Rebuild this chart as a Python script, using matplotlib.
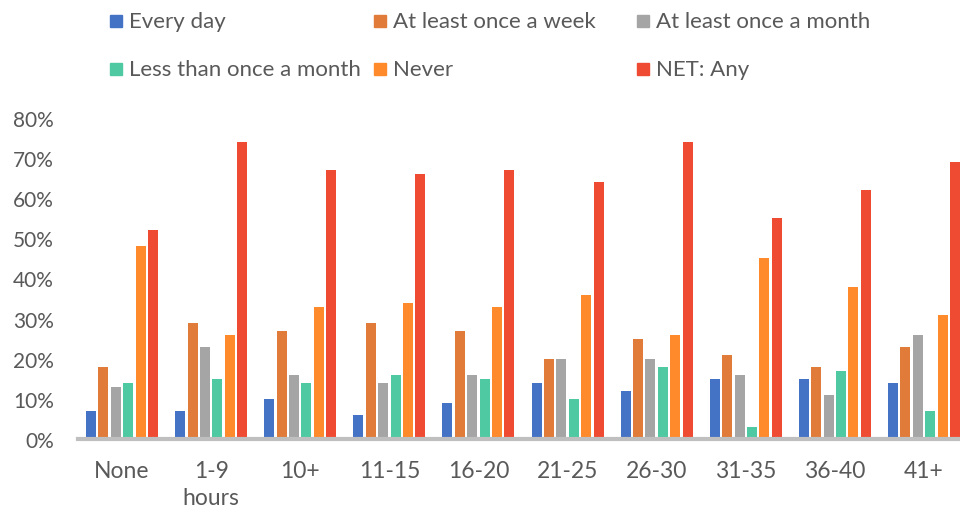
import matplotlib
matplotlib.use("Agg")
import matplotlib.pyplot as plt
from matplotlib.patches import Rectangle
import numpy as np

plt.rcParams['font.family'] = ['Lato', 'DejaVu Sans']

categories = ["None", "1-9\nhours", "10+", "11-15", "16-20", "21-25", "26-30", "31-35", "36-40", "41+"]
series_names = ["Every day", "At least once a week", "At least once a month",
                "Less than once a month", "Never", "NET: Any"]
every_day = [7, 7, 10, 6, 9, 14, 12, 15, 15, 14]
once_a_week = [18, 29, 27, 29, 27, 20, 25, 21, 18, 23]
once_a_month = [13, 23, 16, 14, 16, 20, 20, 16, 11, 26]
less_than_monthly = [14, 15, 14, 16, 15, 10, 18, 3, 17, 7]
never = [48, 26, 33, 34, 33, 36, 26, 45, 38, 31]
net_any = [52, 74, 67, 66, 67, 64, 74, 55, 62, 69]
colors = ["#4472C4", "#E07B39", "#A5A5A5", "#4FC9A2", "#FF8A2B", "#EF4A32"]

values = [every_day, once_a_week, once_a_month, less_than_monthly, never, net_any]

W, H = 960, 510
fig = plt.figure(figsize=(W / 100, H / 100), dpi=100)
ax_left, ax_right = 77.5, 960
ax_bottom, ax_top = 440, 119
ax = fig.add_axes([ax_left / W, (H - ax_bottom) / H,
                   (ax_right - ax_left) / W, (ax_bottom - ax_top) / H])

x = np.arange(len(categories))
step = 0.139
width = 0.112
for i, (vals, c) in enumerate(zip(values, colors)):
    ax.bar(x + (i - 2.5) * step, np.array(vals) / 100, width=width, color=c, zorder=2)

band = 89.1
ax.set_xlim(-0.5, -0.5 + (ax_right - ax_left) / band)
ax.set_ylim(0, 0.8)
ax.set_yticks(np.arange(0, 0.81, 0.1))
ax.set_yticklabels([f"{int(round(v * 100))}%" for v in np.arange(0, 0.81, 0.1)])
ax.set_xticks(x)
ax.set_xticklabels(categories, linespacing=1.35)
ax.tick_params(length=0, colors="#595959")
ax.tick_params(axis="x", pad=15, labelsize=16.5)
ax.tick_params(axis="y", pad=17, labelsize=15)
for s in ["top", "right", "left"]:
    ax.spines[s].set_visible(False)
ax.spines["bottom"].set_color("#BFBFBF")
ax.spines["bottom"].set_linewidth(3)
ax.spines["bottom"].set_zorder(3)

# Legend laid out in a 3-column grid above the plot
col_x = [110, 374, 637]
row_y = [22, 70]
for i, (name, c) in enumerate(zip(series_names, colors)):
    cx = col_x[i % 3]
    cy = row_y[i // 3]
    fig.patches.append(Rectangle((cx / W, (H - cy - 6) / H), 12 / W, 12 / H,
                                 transform=fig.transFigure, color=c))
    fig.text((cx + 19) / W, (H - cy) / H, name, fontsize=16, color="#595959",
             va="center", ha="left")

fig.savefig("out.png", dpi=100)
